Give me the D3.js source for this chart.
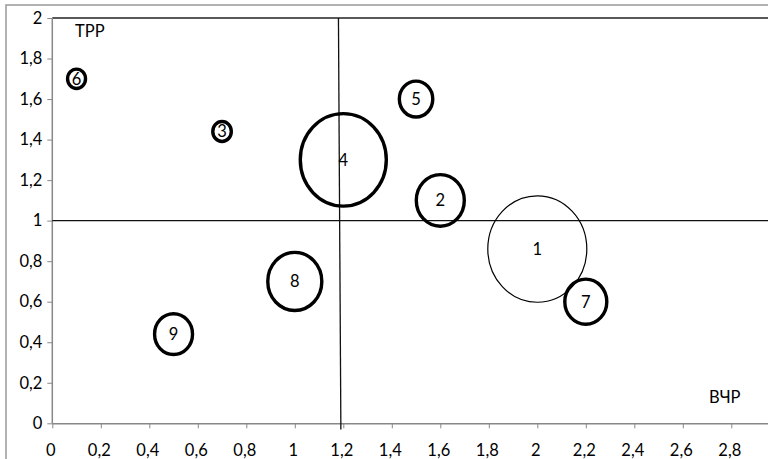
<!DOCTYPE html>
<html>
<head>
<meta charset="utf-8">
<script src="https://cdn.jsdelivr.net/npm/d3@7"></script>
<style>
  html, body { margin: 0; padding: 0; background: #fff; overflow: hidden; }
  svg { display: block; }
  text { font-family: Lato, "Open Sans", sans-serif; fill: #000; }
</style>
</head>
<body>
<svg id="chart" width="768" height="459"></svg>
<script>
// ---- data ----
const labels = ["1", "2", "3", "4", "5", "6", "7", "8", "9"];
const xValues = [2.0, 1.6, 0.7, 1.2, 1.5, 0.1, 2.2, 1.0, 0.5];
const yValues = [0.86, 1.1, 1.44, 1.3, 1.6, 1.7, 0.6, 0.7, 0.44];
const sizes   = [100, 23.5, 3.5, 75.5, 11.4, 3.3, 18, 29.8, 14.7];
const xTicks = [0, 0.2, 0.4, 0.6, 0.8, 1, 1.2, 1.4, 1.6, 1.8, 2, 2.2, 2.4, 2.6, 2.8];
const yTicks = [0, 0.2, 0.4, 0.6, 0.8, 1, 1.2, 1.4, 1.6, 1.8, 2];
const vLine = [[1.18, 2], [1.19, -0.03]];
const hLineY = 1;
const yTitle = "ТРР";
const xTitle = "ВЧР";

// ---- layout ----
const svg = d3.select("#chart");
const pLeft = 52.3, pTop = 18, pBottom = 423.3;
const fs = 16.5;
const x = d3.scaleLinear().domain([0, 3]).range([pLeft, pLeft + 3 * 242.5]);
const y = d3.scaleLinear().domain([0, 2]).range([pBottom, pTop]);
const r = d3.scaleSqrt().domain([0, 100]).range([0, 49.5]);
const fmt = v => String(v).replace(".", ",");

// outer chart frame
svg.append("rect").attr("x", 6).attr("y", 5).attr("width", 800).attr("height", 500)
  .attr("fill", "none").attr("stroke", "#999").attr("stroke-width", 1.5);

// top border of plot area
svg.append("line").attr("x1", pLeft).attr("x2", 768).attr("y1", pTop).attr("y2", pTop)
  .attr("stroke", "#222").attr("stroke-width", 1.5);

// axes
const xAxis = d3.axisBottom(x).tickValues(xTicks).tickSize(5).tickPadding(16).tickFormat(fmt);
const gx = svg.append("g").attr("transform", `translate(0,${pBottom})`).call(xAxis);
gx.select(".domain").attr("d", `M${pLeft},0.5H780`).attr("stroke", "#888").attr("stroke-width", 1.5);
gx.selectAll(".tick line").attr("stroke", "#888");
gx.selectAll(".tick text").attr("font-size", fs).attr("font-family", "Lato, sans-serif")
  .attr("dx", -2);

const yAxis = d3.axisLeft(y).tickValues(yTicks).tickSize(5).tickPadding(5).tickFormat(fmt);
const gy = svg.append("g").attr("transform", `translate(${pLeft},0)`).call(yAxis);
gy.select(".domain").attr("d", `M0,${pTop}V${pBottom}`).attr("stroke", "#888").attr("stroke-width", 1.5);
gy.selectAll(".tick line").attr("stroke", "#888");
gy.selectAll(".tick text").attr("font-size", fs).attr("font-family", "Lato, sans-serif");

// reference lines
svg.append("line").attr("x1", x(0)).attr("x2", 768).attr("y1", y(hLineY)).attr("y2", y(hLineY))
  .attr("stroke", "#111").attr("stroke-width", 1.3);
svg.append("line")
  .attr("x1", x(vLine[0][0])).attr("y1", y(vLine[0][1]))
  .attr("x2", x(vLine[1][0])).attr("y2", y(vLine[1][1]))
  .attr("stroke", "#111").attr("stroke-width", 1.3);

// bubbles
const data = labels.map((l, i) => ({ l, x: xValues[i], y: yValues[i], s: sizes[i] }));
const g = svg.append("g");
g.selectAll("ellipse").data(data).join("ellipse")
  .attr("cx", d => x(d.x)).attr("cy", d => y(d.y))
  .attr("rx", d => r(d.s)).attr("ry", d => r(d.s) * 1.075)
  .attr("fill", "none").attr("stroke", "#000")
  .attr("stroke-width", d => d.l === "1" ? 1.2 : 3.4);
g.selectAll("text").data(data).join("text")
  .attr("x", d => x(d.x)).attr("y", d => y(d.y))
  .attr("text-anchor", "middle").attr("dominant-baseline", "central")
  .attr("font-size", fs).text(d => d.l);

// axis titles
svg.append("text").attr("x", 75).attr("y", 37).attr("font-size", fs).text(yTitle);
svg.append("text").attr("x", 709).attr("y", 403).attr("font-size", fs).text(xTitle);
</script>
</body>
</html>
